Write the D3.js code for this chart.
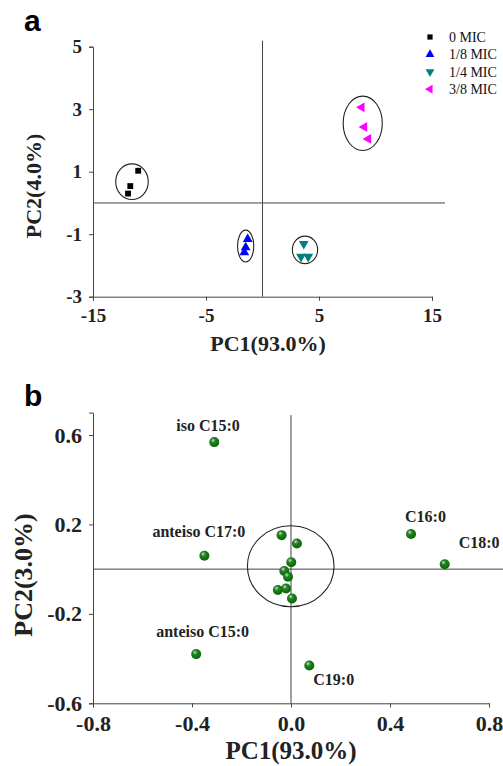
<!DOCTYPE html>
<html>
<head>
<meta charset="utf-8">
<script src="https://cdn.jsdelivr.net/npm/d3@7"></script>
<style>
  body { margin: 0; background: #fff; }
  svg { display: block; }
  .tick text { font-family: "Liberation Serif", "Times New Roman", serif; font-weight: bold; fill: #222; }
  .axis path, .axis line { stroke: #444; }
</style>
</head>
<body>
<div id="chart"></div>
<script>
// ---- panel a: PCA scores ----
var groupNames = ["0 MIC", "1/8 MIC", "1/4 MIC", "3/8 MIC"];
var groupColors = ["#000000", "#0000ff", "#008080", "#ff00ff"];
var scoreX = [[-11.0, -11.7, -11.9], [-1.31, -1.49, -1.61], [3.65, 3.41, 4.05], [8.78, 9.01, 9.36]];
var scoreY = [[1.03, 0.54, 0.30], [-1.16, -1.42, -1.58], [-1.31, -1.72, -1.72], [3.06, 2.43, 2.05]];
// cluster ellipses: centre and radii in data units
var ellCx = [-11.55, -1.49, 3.76, 8.87];
var ellCy = [0.68, -1.38, -1.50, 2.55];
var ellRx = [1.44, 0.72, 1.12, 1.73];
var ellRy = [0.57, 0.51, 0.44, 0.87];
var aTicksX = [-15, -5, 5, 15];
var aTicksY = [-3, -1, 1, 3, 5];

// ---- panel b: loadings ----
var acidNames = ["iso C15:0", "anteiso C17:0", "anteiso C15:0", "C19:0", "C16:0", "C18:0",
  "", "", "", "", "", "", "", ""];
var loadX = [-0.31, -0.35, -0.383, 0.074, 0.485, 0.621,
  -0.038, 0.024, 0.001, -0.027, -0.012, -0.053, -0.020, 0.004];
var loadY = [0.568, 0.06, -0.38, -0.431, 0.157, 0.022,
  0.152, 0.115, 0.031, -0.008, -0.034, -0.093, -0.087, -0.131];
var bTicksX = [-0.8, -0.4, 0.0, 0.4, 0.8];
var bTicksY = [-0.6, -0.2, 0.2, 0.6];
var circle = { cx: -0.001, cy: 0.013, rx: 0.175, ry: 0.181 };

// label offsets in px from the point
var labelOffset = {
  "iso C15:0": [-38, -11], "anteiso C17:0": [-52, -19], "anteiso C15:0": [-40, -17],
  "C19:0": [4, 19], "C16:0": [-6, -12], "C18:0": [14, -16]
};

var W = 503, H = 766;
var svg = d3.select("#chart").append("svg").attr("width", W).attr("height", H);

var defs = svg.append("defs");
var grad = defs.append("radialGradient").attr("id", "ball")
  .attr("cx", "45%").attr("cy", "40%").attr("r", "60%").attr("fx", "35%").attr("fy", "30%");
grad.append("stop").attr("offset", "0%").attr("stop-color", "#d0d0d0");
grad.append("stop").attr("offset", "22%").attr("stop-color", "#8a9a8a");
grad.append("stop").attr("offset", "35%").attr("stop-color", "#1c8a1c");
grad.append("stop").attr("offset", "100%").attr("stop-color", "#0a600a");

function fmt(v) { return d3.format(".1f")(v).replace("\u2212", "-"); }

// ================= panel a =================
var xa = d3.scaleLinear().domain([-15, 15]).range([93, 432]);
var ya = d3.scaleLinear().domain([-3, 5]).range([296.7, 46.7]);
var ga = svg.append("g");

ga.append("text").attr("x", 24).attr("y", 30.5)
  .style("font-family", "'Liberation Sans', Arial, sans-serif").style("font-weight", "bold")
  .style("font-size", "30px").text("a");

ga.append("g").attr("class", "axis").attr("transform", "translate(0," + ya(-3) + ")")
  .call(d3.axisBottom(xa).tickValues(aTicksX).tickSizeOuter(0).tickSize(4).tickPadding(8))
  .call(function (g) { g.selectAll("text").style("font-size", "19px").text(function (d) { return String(d); }); });
ga.append("g").attr("class", "axis").attr("transform", "translate(" + xa(-15) + ",0)")
  .call(d3.axisLeft(ya).tickValues(aTicksY).tickSizeOuter(0).tickSize(4).tickPadding(7))
  .call(function (g) { g.selectAll("text").style("font-size", "19px").text(function (d) { return String(d); }); });

// zero lines
ga.append("line").attr("x1", xa(0)).attr("x2", xa(0)).attr("y1", ya(5.19)).attr("y2", ya(-3))
  .attr("stroke", "#444");
ga.append("line").attr("x1", xa(-15)).attr("x2", xa(16.15)).attr("y1", ya(0)).attr("y2", ya(0))
  .attr("stroke", "#444");

var symTypes = [d3.symbolSquare, d3.symbolTriangle, d3.symbolTriangle, d3.symbolTriangle];
var symRot = [0, 0, 180, -90];
var symSize = [34, 42, 42, 42];

groupNames.forEach(function (name, i) {
  ga.append("ellipse")
    .attr("cx", xa(ellCx[i])).attr("cy", ya(ellCy[i]))
    .attr("rx", xa(ellRx[i]) - xa(0)).attr("ry", ya(0) - ya(ellRy[i]))
    .attr("fill", "none").attr("stroke", "#222").attr("stroke-width", 1.1);
  scoreX[i].forEach(function (v, j) {
    ga.append("path").attr("d", d3.symbol().type(symTypes[i]).size(symSize[i])())
      .attr("transform", "translate(" + xa(v) + "," + ya(scoreY[i][j]) + ") rotate(" + symRot[i] + ")")
      .attr("fill", groupColors[i]);
  });
  // legend
  var ly = 37 + i * 17.4;
  ga.append("path").attr("d", d3.symbol().type(symTypes[i]).size(symSize[i] * 0.8)())
    .attr("transform", "translate(430," + ly + ") rotate(" + symRot[i] + ")")
    .attr("fill", groupColors[i]);
  ga.append("text").attr("x", 449).attr("y", ly + 5)
    .style("font-family", "'Liberation Serif', 'Times New Roman', serif").style("font-size", "14px")
    .attr("fill", "#111").text(name);
});

ga.append("text").attr("x", 268).attr("y", 351).attr("text-anchor", "middle")
  .style("font-family", "'Liberation Serif', serif").style("font-weight", "bold").style("font-size", "22px")
  .attr("fill", "#222").text("PC1(93.0%)");
ga.append("text").attr("transform", "translate(41,186) rotate(-90)").attr("text-anchor", "middle")
  .style("font-family", "'Liberation Serif', serif").style("font-weight", "bold").style("font-size", "22px")
  .attr("fill", "#222").text("PC2(4.0%)");

// ================= panel b =================
var xb = d3.scaleLinear().domain([-0.8, 0.8]).range([93, 489]);
var yb = d3.scaleLinear().domain([-0.6, 0.7]).range([703.3, 412.6]);
var gb = svg.append("g");

gb.append("text").attr("x", 24).attr("y", 406)
  .style("font-family", "'Liberation Sans', Arial, sans-serif").style("font-weight", "bold")
  .style("font-size", "30px").text("b");

gb.append("g").attr("class", "axis").attr("transform", "translate(0," + yb(-0.6) + ")")
  .call(d3.axisBottom(xb).tickValues(bTicksX).tickSizeOuter(0).tickSize(4).tickPadding(8).tickFormat(fmt))
  .call(function (g) { g.selectAll("text").style("font-size", "22px"); });
gb.append("g").attr("class", "axis").attr("transform", "translate(" + xb(-0.8) + ",0)")
  .call(d3.axisLeft(yb).tickValues(bTicksY).tickSizeOuter(0).tickSize(4).tickPadding(7).tickFormat(fmt))
  .call(function (g) { g.selectAll("text").style("font-size", "22px"); });

gb.append("line").attr("x1", xb(0)).attr("x2", xb(0)).attr("y1", yb(0.689)).attr("y2", yb(-0.6))
  .attr("stroke", "#444");
gb.append("line").attr("x1", xb(-0.8)).attr("x2", xb(0.857)).attr("y1", yb(0)).attr("y2", yb(0))
  .attr("stroke", "#444");

gb.append("ellipse")
  .attr("cx", xb(circle.cx)).attr("cy", yb(circle.cy))
  .attr("rx", xb(circle.rx) - xb(0)).attr("ry", yb(0) - yb(circle.ry))
  .attr("fill", "none").attr("stroke", "#222").attr("stroke-width", 1.1);

gb.selectAll(".ball").data(loadX).enter().append("circle")
  .attr("class", "ball")
  .attr("cx", function (d) { return xb(d); })
  .attr("cy", function (d, i) { return yb(loadY[i]); })
  .attr("r", 5)
  .attr("fill", "url(#ball)");

acidNames.forEach(function (name, i) {
  if (!name) return;
  var off = labelOffset[name];
  gb.append("text").attr("x", xb(loadX[i]) + off[0]).attr("y", yb(loadY[i]) + off[1])
    .style("font-family", "'Liberation Serif', serif").style("font-weight", "bold").style("font-size", "16px")
    .attr("fill", "#222").text(name);
});

gb.append("text").attr("x", 291).attr("y", 759).attr("text-anchor", "middle")
  .style("font-family", "'Liberation Serif', serif").style("font-weight", "bold").style("font-size", "25px")
  .attr("fill", "#222").text("PC1(93.0%)");
gb.append("text").attr("transform", "translate(32,575) rotate(-90)").attr("text-anchor", "middle")
  .style("font-family", "'Liberation Serif', serif").style("font-weight", "bold").style("font-size", "26px")
  .attr("fill", "#222").text("PC2(3.0%)");
</script>
</body>
</html>
